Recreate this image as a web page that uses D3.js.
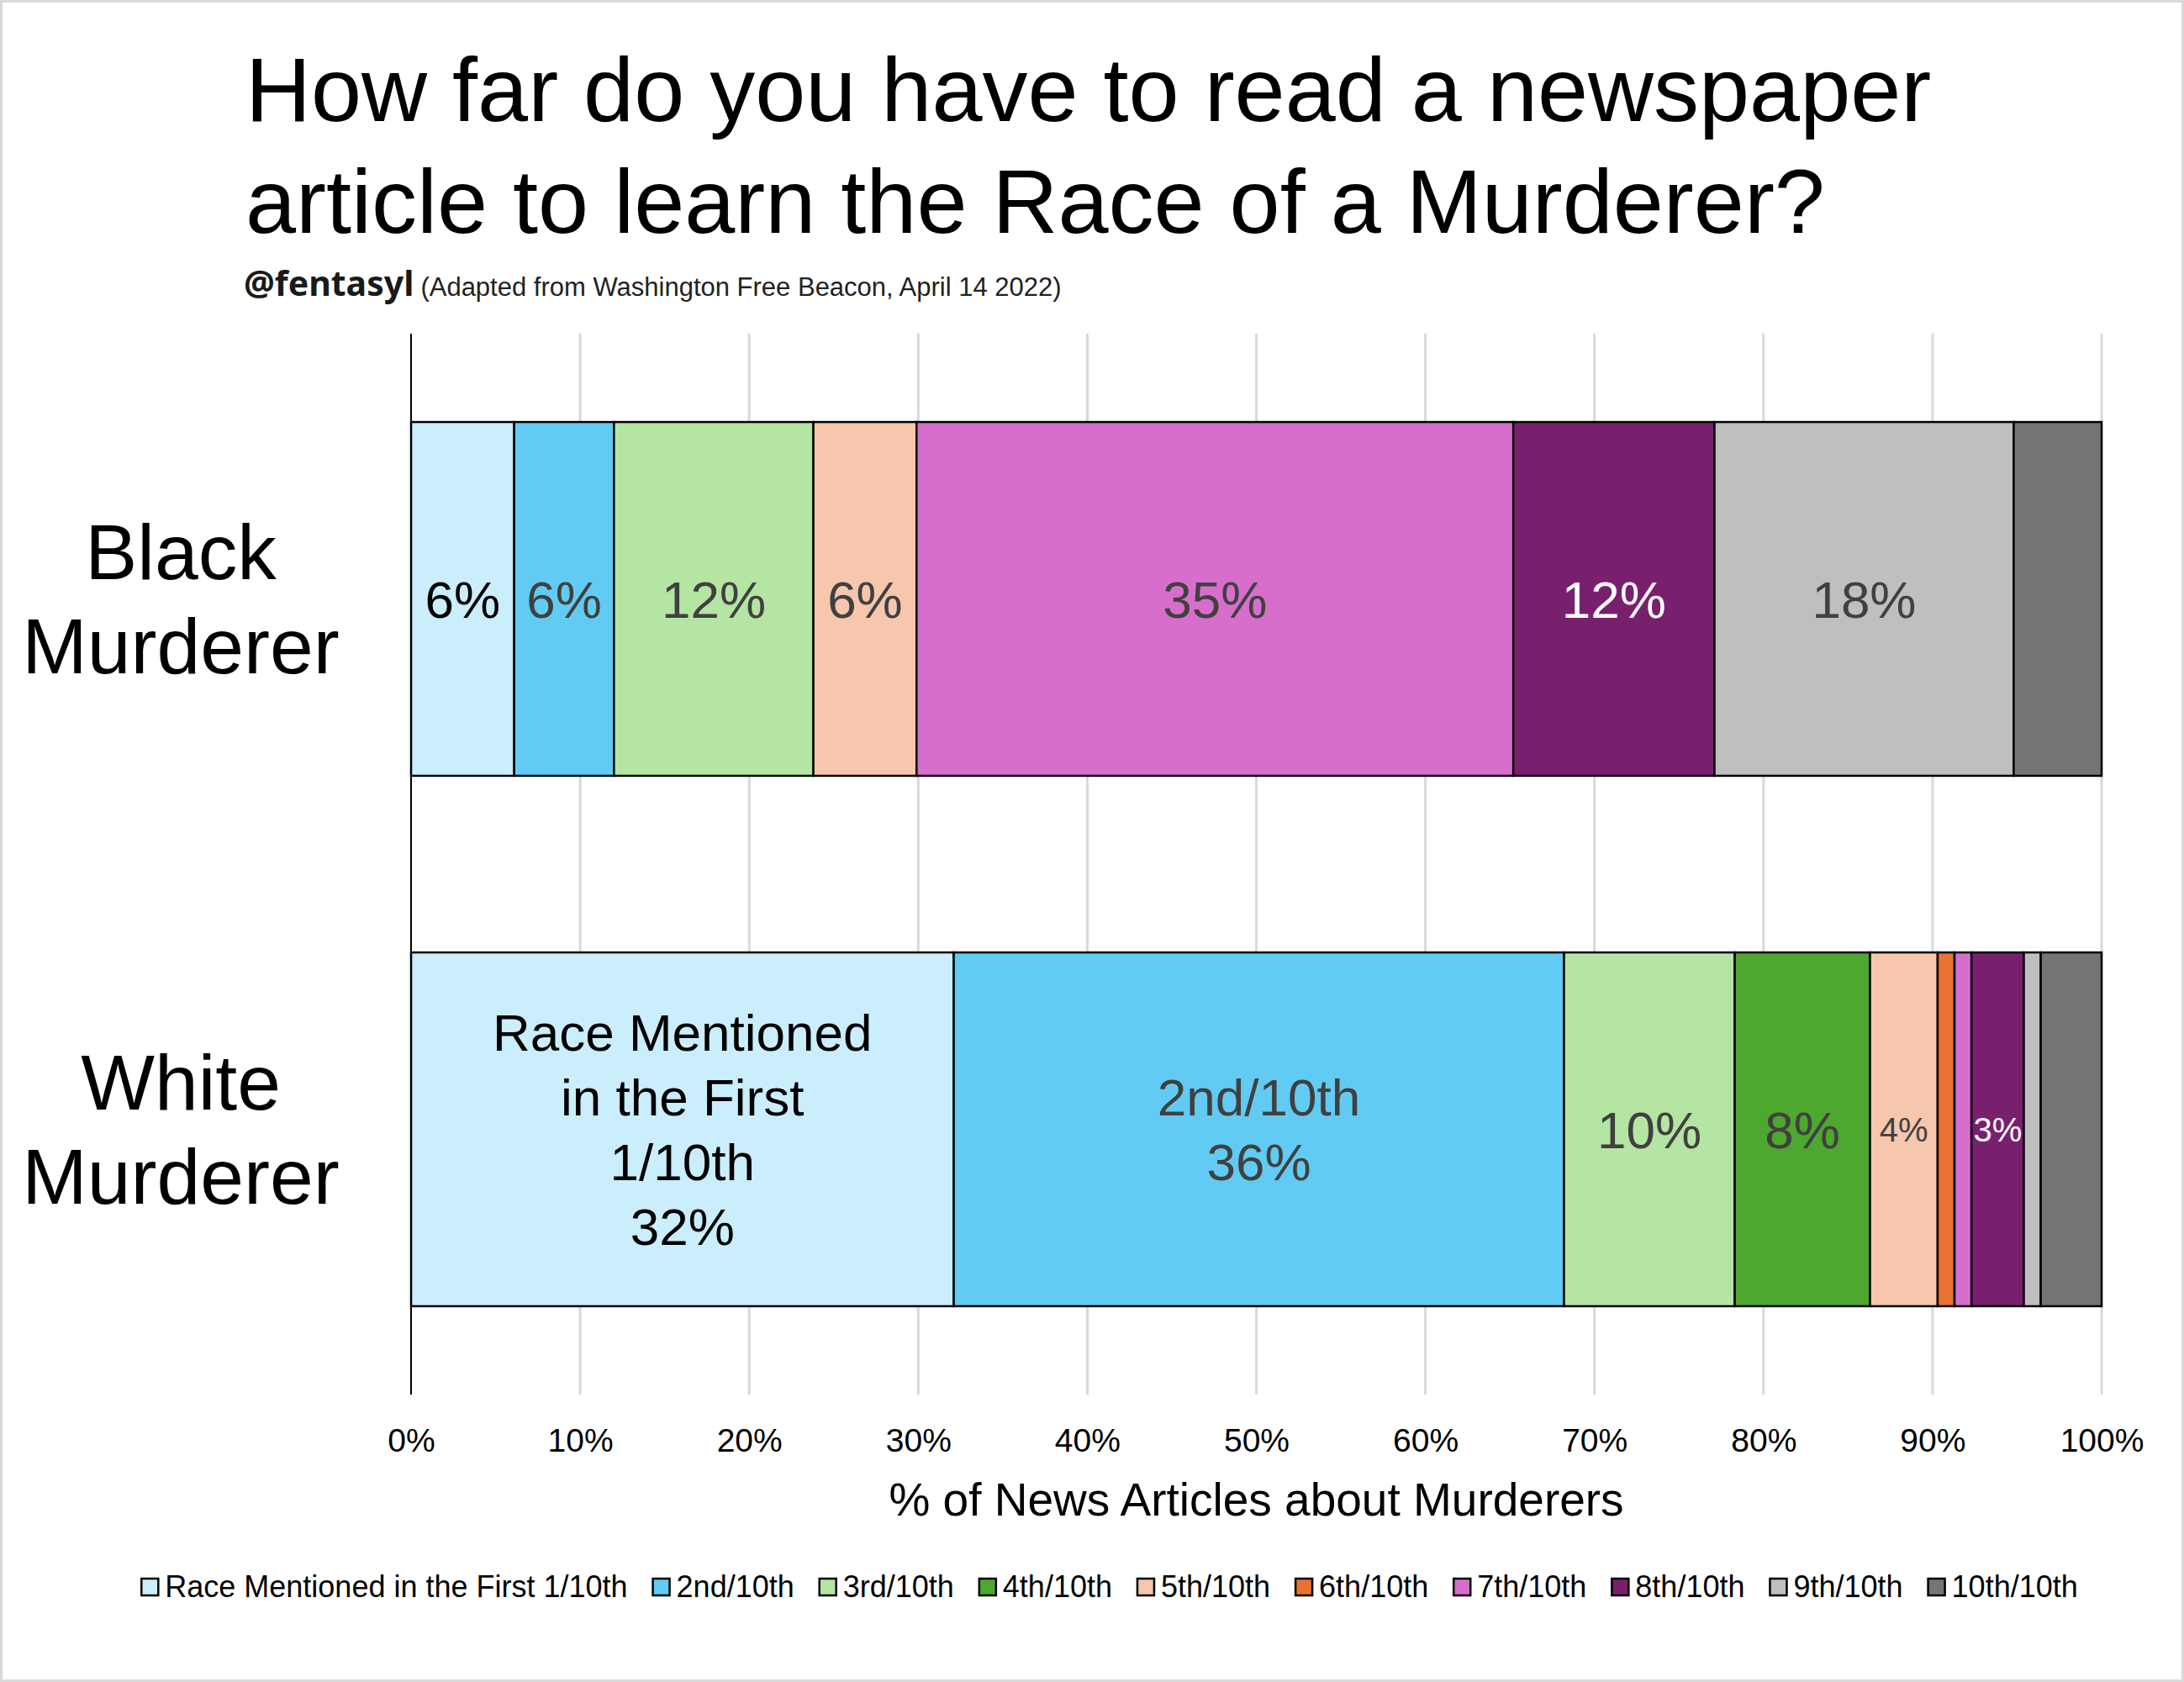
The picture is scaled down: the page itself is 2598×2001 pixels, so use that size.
<!DOCTYPE html>
<html>
<head>
<meta charset="utf-8">
<script src="https://cdn.jsdelivr.net/npm/d3@7"></script>
<style>
  html, body { margin: 0; padding: 0; background: #fff; }
  svg { display: block; }
  text { font-family: "Liberation Sans", Arial, sans-serif; }
</style>
</head>
<body>
<script>
// ---------- DATA ----------
const categories = ["Black Murderer", "White Murderer"];
const seriesNames = ["Race Mentioned in the First 1/10th", "2nd/10th", "3rd/10th", "4th/10th", "5th/10th",
                     "6th/10th", "7th/10th", "8th/10th", "9th/10th", "10th/10th"];
const blackValues = [6.1, 5.9, 11.8, 0, 6.1, 0, 35.3, 11.9, 17.7, 5.2];
const whiteValues = [32.1, 36.1, 10.1, 8.0, 4.0, 1.0, 1.0, 3.1, 1.0, 3.6];
const blackLabels = [["6%"], ["6%"], ["12%"], [], ["6%"], [], ["35%"], ["12%"], ["18%"], []];
const whiteLabels = [["Race Mentioned", "in the First", "1/10th", "32%"], ["2nd/10th", "36%"], ["10%"], ["8%"], ["4%"], [], [], ["3%"], [], []];
const xTicks = [0, 10, 20, 30, 40, 50, 60, 70, 80, 90, 100];
const seriesColors = ["#CAEEFB", "#61CBF3", "#B4E5A2", "#4EA72E", "#F6C6AD",
                      "#E97132", "#D86ECC", "#78206E", "#BFBFBF", "#757575"];
const labelColors = ["#000000", "#404040", "#404040", "#404040", "#404040",
                     "#404040", "#404040", "#ffffff", "#404040", "#404040"];
const titleLines = ["How far do you have to read a newspaper", "article to learn the Race of a Murderer?"];
const handle = "@fentasyl";
const source = "(Adapted from Washington Free Beacon, April 14 2022)";
const xAxisTitle = "% of News Articles about Murderers";

// ---------- LAYOUT ----------
const W = 2598, H = 2001;
const plot = { left: 489, right: 2500, top: 397, bottom: 1659 };

const svg = d3.select("body").append("svg").attr("width", W).attr("height", H);
svg.append("rect").attr("x", 0).attr("y", 0).attr("width", W).attr("height", H)
  .attr("fill", "#fff").attr("stroke", "#d9d9d9").attr("stroke-width", 6);

const x = d3.scaleLinear().domain([0, 100]).range([plot.left, plot.right]);
const y = d3.scaleBand().domain(categories).range([plot.top, plot.bottom])
  .paddingInner(0.333).paddingOuter(0.1665);

// Title
svg.append("g").selectAll("text").data(titleLines).join("text")
  .attr("x", 292).attr("y", (d, i) => 144 + i * 133)
  .attr("font-size", 108).attr("fill", "#000").text(d => d);

const sub = svg.append("text").attr("x", 290).attr("y", 352);
sub.append("tspan").attr("font-family", "'Noto Sans', 'Open Sans', sans-serif")
  .attr("font-weight", "bold").attr("font-size", 41).attr("fill", "#1a1a1a").text(handle);
sub.append("tspan").attr("dx", 8).attr("font-size", 31).attr("fill", "#222").text(source);

// Gridlines
svg.append("g").selectAll("line").data(xTicks.filter(t => t > 0)).join("line")
  .attr("x1", d => x(d)).attr("x2", d => x(d))
  .attr("y1", plot.top).attr("y2", plot.bottom)
  .attr("stroke", "#d9d9d9").attr("stroke-width", 3);

// Stacked data
const rows = [
  { cat: categories[0], values: blackValues, labels: blackLabels },
  { cat: categories[1], values: whiteValues, labels: whiteLabels }
];
const segs = [];
rows.forEach(r => {
  let acc = 0;
  r.values.forEach((v, i) => {
    segs.push({ cat: r.cat, i, x0: acc, x1: acc + v, v, label: r.labels[i] });
    acc += v;
  });
});

const barG = svg.append("g");
barG.selectAll("rect").data(segs.filter(s => s.v > 0)).join("rect")
  .attr("x", d => x(d.x0)).attr("width", d => x(d.x1) - x(d.x0))
  .attr("y", d => y(d.cat)).attr("height", y.bandwidth())
  .attr("fill", d => seriesColors[d.i]).attr("stroke", "#000").attr("stroke-width", 2.5);

// Axis line at 0
svg.append("line").attr("x1", x(0)).attr("x2", x(0)).attr("y1", plot.top).attr("y2", plot.bottom)
  .attr("stroke", "#000").attr("stroke-width", 2);

// Labels in bars
const lineH = 77;
segs.filter(s => s.label && s.label.length).forEach(s => {
  const fs = (s.v < 5) ? 40 : 62;
  const cx = (x(s.x0) + x(s.x1)) / 2;
  const cy = y(s.cat) + y.bandwidth() / 2;
  const n = s.label.length;
  const t = svg.append("text").attr("text-anchor", "middle").attr("font-size", fs)
    .attr("fill", labelColors[s.i]);
  s.label.forEach((ln, k) => {
    t.append("tspan").attr("x", cx).attr("y", cy + 0.358 * fs + (k - (n - 1) / 2) * lineH).text(ln);
  });
});

// Category labels
categories.forEach(c => {
  const words = c.split(" ");
  const cy = y(c) + y.bandwidth() / 2;
  const t = svg.append("text").attr("text-anchor", "middle").attr("font-size", 93).attr("fill", "#000");
  words.forEach((w, k) => {
    t.append("tspan").attr("x", 215).attr("y", cy + 0.35 * 93 + (k - (words.length - 1) / 2) * 112).text(w);
  });
});

// X axis tick labels
const xAxis = d3.axisBottom(x).tickValues(xTicks).tickFormat(d => d + "%").tickSize(0).tickPadding(0);
const axG = svg.append("g").attr("transform", `translate(0, ${plot.bottom})`).call(xAxis);
axG.select(".domain").remove();
axG.selectAll("text").attr("font-size", 39).attr("fill", "#000")
  .attr("font-family", "'Liberation Sans', Arial, sans-serif")
  .attr("dy", null).attr("y", 68);

// Axis title
svg.append("text").attr("x", (plot.left + plot.right) / 2).attr("y", 1803)
  .attr("text-anchor", "middle").attr("font-size", 55).attr("fill", "#000").text(xAxisTitle);

// Legend
const legG = svg.append("g");
const sw = 20, gapText = 8, gapItem = 30, legFs = 36, legY = 1900;
let lx = 0;
seriesNames.forEach((name, i) => {
  const g = legG.append("g");
  g.append("rect").attr("x", 0).attr("y", -22).attr("width", sw).attr("height", sw)
    .attr("fill", seriesColors[i]).attr("stroke", "#000").attr("stroke-width", 2.5);
  const tx = g.append("text").attr("x", sw + gapText).attr("y", 0).attr("font-size", legFs)
    .attr("fill", "#000").text(name);
  const w = sw + gapText + tx.node().getComputedTextLength();
  g.attr("transform", `translate(${lx}, ${legY})`);
  lx += w + gapItem;
});
const totalW = lx - gapItem;
legG.attr("transform", `translate(${1320 - totalW / 2}, 0)`);
</script>
</body>
</html>
